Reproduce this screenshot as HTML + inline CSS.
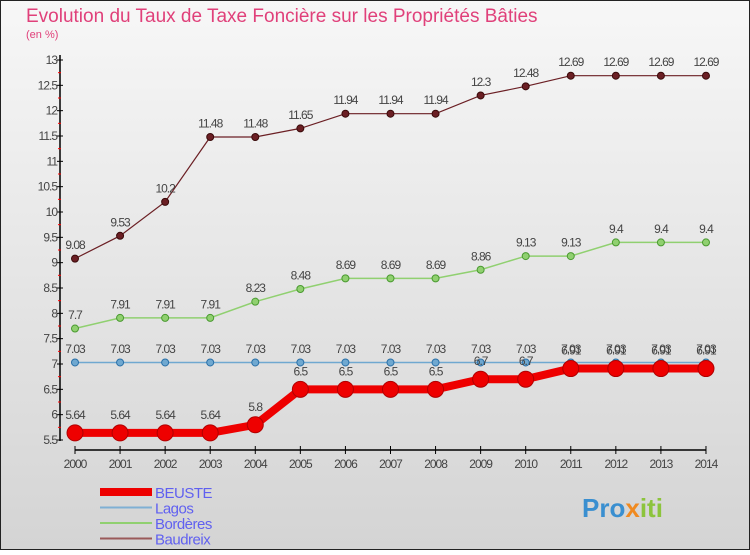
<!DOCTYPE html>
<html><head><meta charset="utf-8"><style>
body{margin:0;width:750px;height:550px;overflow:hidden;font-family:"Liberation Sans",sans-serif}
</style></head><body>
<svg id="c" width="750" height="550" xmlns="http://www.w3.org/2000/svg">
<defs><linearGradient id="bg" x1="0" y1="0" x2="0" y2="1"><stop offset="0" stop-color="#f7f7f7"/><stop offset="1" stop-color="#d4d4d4"/></linearGradient></defs>
<rect x="0.5" y="0.5" width="749" height="549" fill="url(#bg)" stroke="#222"/>
<text x="26" y="22" font-size="19" fill="#e0407a">Evolution du Taux de Taxe Foncière sur les Propriétés Bâties</text>
<text x="26" y="38" font-size="11" fill="#e0407a">(en %)</text>
<g id="axes"></g><g id="series"></g><g id="legend"></g>
<text x="582" y="517" font-size="26" font-weight="bold" fill="#3a8fd0">Pro<tspan fill="#f08a20">x</tspan><tspan fill="#8cc43c">iti</tspan></text>
</svg>
<script>
const years=[2000,2001,2002,2003,2004,2005,2006,2007,2008,2009,2010,2011,2012,2013,2014];
const beuste=[5.64,5.64,5.64,5.64,5.8,6.5,6.5,6.5,6.5,6.7,6.7,6.91,6.91,6.91,6.91];
const lagos=[7.03,7.03,7.03,7.03,7.03,7.03,7.03,7.03,7.03,7.03,7.03,7.03,7.03,7.03,7.03];
const borderes=[7.7,7.91,7.91,7.91,8.23,8.48,8.69,8.69,8.69,8.86,9.13,9.13,9.4,9.4,9.4];
const baudreix=[9.08,9.53,10.2,11.48,11.48,11.65,11.94,11.94,11.94,12.3,12.48,12.69,12.69,12.69,12.69];
const yTicks=[5.5,6,6.5,7,7.5,8,8.5,9,9.5,10,10.5,11,11.5,12,12.5,13];
const NS="http://www.w3.org/2000/svg";
const x=i=>75+i*45.07, y=v=>440-(v-5.5)*50.667;
function mk(p,t,a){const e=document.createElementNS(NS,t);for(const k in a)e.setAttribute(k,a[k]);p.appendChild(e);return e;}
const ax=document.getElementById('axes');
let e=mk(ax,'line',{x1:60,y1:55,x2:60,y2:441,stroke:'#000','stroke-width':1.5});

e=mk(ax,'line',{x1:75,y1:450,x2:706,y2:450,stroke:'#000','stroke-width':1.5});

yTicks.forEach((v,k)=>{
 mk(ax,'line',{x1:57,x2:63,y1:y(v),y2:y(v),stroke:'#000'});
 if(k<yTicks.length-1) mk(ax,'line',{x1:58,x2:61,y1:y(v+0.25),y2:y(v+0.25),stroke:'#f00'});
 const t=mk(ax,'text',{x:57,y:y(v)+4,'font-size':12,'text-anchor':'end',fill:'#444','letter-spacing':'-1'});
 
 t.textContent=String(v);
});
years.forEach((yr,i)=>{
 mk(ax,'line',{x1:x(i),x2:x(i),y1:446,y2:454,stroke:'#000'});
 const t=mk(ax,'text',{x:x(i),y:468,'font-size':12,'text-anchor':'middle',fill:'#444','letter-spacing':'-1'});
 
 t.textContent=yr;
});
const sg=document.getElementById('series');
function series(name,vals,col,dark,w,r){
 const g=mk(sg,'g',{});
 
 mk(g,'polyline',{points:vals.map((v,i)=>x(i)+','+y(v)).join(' '),fill:'none',stroke:col,'stroke-width':w});
 vals.forEach((v,i)=>{
  const c=mk(g,'circle',{cx:x(i),cy:y(v),r:r,fill:col,stroke:dark,'stroke-width':1});
  
  const t=mk(g,'text',{x:x(i),y:y(v)-(r+6),'font-size':12,'text-anchor':'middle',fill:'#444','letter-spacing':'-1'});
  
  t.textContent=String(v);
 });
}
series('baudreix',baudreix,'#6b1f24','#3a0a0a',1.2,3.5);
series('borderes',borderes,'#90d070','#4a9a30',1.5,3.5);
series('lagos',lagos,'#6fa8d0','#2a70a8',1.5,3.5);
series('beuste',beuste,'#ee0000','#b00000',8,8);
const lg=document.getElementById('legend');
[['BEUSTE','#ee0000',8],['Lagos','#7fb0d4',2],['Bordères','#90d070',2],['Baudreix','#9a5a5a',2]].forEach((d,i)=>{
 const yy=492+i*15.5;
 const g=mk(lg,'g',{});
 
 mk(g,'line',{x1:100,x2:152,y1:yy,y2:yy,stroke:d[1],'stroke-width':d[2]});
 const t=mk(g,'text',{x:155,y:yy+6,'font-size':15,fill:'#6060f0','letter-spacing':'-0.5'});
 t.textContent=d[0];
});
</script>
</body></html>
